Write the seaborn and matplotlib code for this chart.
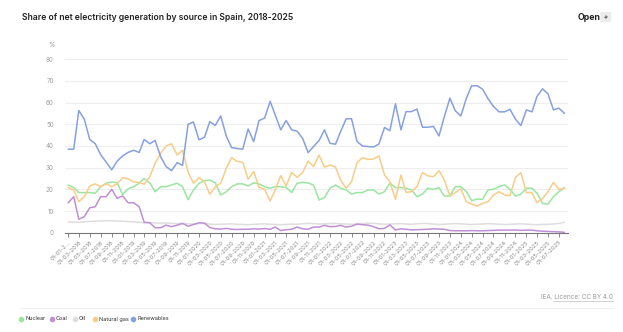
import matplotlib
matplotlib.use("Agg")
import matplotlib.pyplot as plt
from matplotlib.lines import Line2D
from matplotlib.patches import FancyBboxPatch, FancyArrowPatch
import pandas as pd
import seaborn as sns

# Monthly share of net electricity generation (%), Jan 2018 - Aug 2025
months = pd.date_range("2018-01-01", periods=92, freq="MS")

nuclear = [
    22, 20.8, 18.5, 18.5, 18.5, 18.2, 21.2, 22.8, 23.4, 23, 17.6, 20.2, 21.2, 22.8, 25, 23,
    18.9, 21.2, 21.2, 22, 22.8, 21.2,
    15.2, 19.7, 22.8, 24, 24.3, 23, 17.4, 18.9, 21.2, 22.5, 22.5, 21.5, 23, 22.5, 21.2, 20.5,
    21.2, 21.2, 20.9, 18.5, 22.8, 23.2,
    22.9, 22, 15.1, 16.2, 20.5, 22, 20.5, 19.7, 17.8, 18.5, 18.5, 19.7, 19.7, 17.8, 18.9, 22.8,
    20.8, 20.8, 20.5, 19.7, 16.6, 17.8, 20.5,
    20,
    20.8, 16.9, 16.9, 21.2, 21.2, 18.9, 14.8, 15.5, 15.4, 19.7, 20, 21.2, 22, 20, 16.9, 17.8,
    20.5, 20.5, 18.2, 13.5, 13.2, 16.6, 18.9, 20.8,
]

coal = [
    13.8, 16.6, 6.2, 7.4, 11.5, 12, 16.6, 16.6, 20, 15.8, 17, 13.8, 13.8, 12, 4.8, 4.6,
    2.3, 2.3, 3.5, 2.8, 3.5, 4.3,
    3.0, 3.8, 4.6, 4.4, 2.4, 1.8, 1.7, 2.0, 1.6, 1.5, 1.6, 1.6, 1.8, 1.7, 1.9, 1.6,
    2.6, 1.0, 1.4, 1.6, 2.6, 1.8,
    1.6, 2.6, 2.6, 3.4, 2.8, 2.9, 3.4, 2.6, 3.0, 4.0, 3.7, 3.5, 2.8, 1.8, 2.0, 3.6,
    1.3, 1.8, 1.6, 1.3, 1.4, 1.5, 1.6,
    1.8,
    1.7, 1.6, 1.0, 0.9, 0.9, 0.9, 1.0, 0.9, 0.9, 1.0, 1.1, 1.2, 1.2, 1.2, 1.2, 1.1,
    1.2, 1.2, 0.9, 0.7, 0.6, 0.5, 0.4, 0.2,
]

oil = [
    5.0, 4.9, 4.8, 5.0, 5.2, 5.3, 5.4, 5.5, 5.5, 5.4, 5.3, 5.2,
    5.0, 4.8, 4.6, 4.7, 4.5, 4.4, 4.5, 4.3, 4.2, 4.3, 4.1, 4.0,
    4.2, 4.3, 4.0, 3.8, 3.9, 4.0, 4.1, 3.9, 3.8, 3.7, 3.9, 4.0,
    4.1, 3.9, 3.8, 3.7, 3.8, 4.0, 3.9, 4.1, 4.3, 4.2, 4.0, 4.1,
    4.2, 4.3, 4.1, 4.0, 3.9, 4.0, 4.2, 4.4, 4.3, 4.1, 3.9, 4.0,
    4.1, 4.2, 4.0, 3.9, 4.1, 4.3, 4.2, 4.0, 3.8, 3.9, 4.1, 4.2,
    4.1, 3.9, 3.8, 3.9, 4.0, 4.2, 4.1, 3.9, 3.8, 3.9, 4.0, 4.1,
    4.0, 3.8, 3.7, 3.8, 3.9, 4.0, 4.3, 4.8,
]

natural_gas = [
    20.8, 19.7, 14.3, 16.6, 21.5, 22.5, 21.2, 22.5, 21.2, 22.5, 25.4, 24.8, 23.4, 23.2, 22.3, 25.8,
    32, 36.6, 40, 41, 35.8, 38,
    28, 22.8, 25.4, 23.5, 17.7, 21.2, 22.8, 29.7, 34.6, 32.8, 32.5, 24.6, 28.2, 20.9, 20, 14.6,
    19.7, 26.3, 21.5, 27.8, 25.5, 27.7,
    33, 30.5, 35.8, 30.2, 31.2, 30.2, 24.3, 20.5, 23.5, 32.3, 34.6, 33.8, 34, 35.4, 26.6, 23.5,
    15.4, 26.6, 18.6, 18.9, 21.2, 27.7, 26.2,
    25.8,
    28.6, 24.3, 16.9, 18.5, 20.2, 14.3, 13.2, 12.3, 13.5, 14.3, 17.4, 18.9, 17.4, 17.1, 25.5, 27.7,
    18.5, 18.5, 13.8, 15.8, 18.9, 23.2, 20, 20.5,
]

renewables = [
    38.5, 38.5, 56.3, 52.3, 43, 41, 36, 32.5, 29, 33, 35.4, 37, 38, 37, 43, 41,
    42.5, 35, 30.5, 28.6, 32.3, 31,
    50, 51, 42.8, 44, 51.2, 49.4, 53.8, 44.6, 39.2, 38.8, 38.5, 47.8, 42, 51.7, 52.8, 60.5,
    54.3, 47.4, 51.7, 47.4, 46.8, 43.5,
    36.9, 39.7, 42.5, 47.4, 41.2, 40.8, 46.6, 52.5, 52.5, 42, 40, 39.7, 39.5, 40.9, 48.5, 47,
    59.4, 47.4, 55.8, 55.8, 57, 48.6, 48.6,
    49,
    44.6, 53.5, 62, 56.2, 53.8, 62, 67.7, 67.7, 66.2, 61.7, 58.2, 55.7, 55.7, 56.9, 52.3, 49.4,
    56.6, 55.7, 62.8, 66.3, 64, 56.6, 57.4, 55,
]

sources = ["Nuclear", "Coal", "Oil", "Natural gas", "Renewables"]
series = [nuclear, coal, oil, natural_gas, renewables]
colors = ["#9ae6a0", "#c08fd6", "#dedede", "#f9cd88", "#86a0e4"]
y_ticks = [0, 10, 20, 30, 40, 50, 60, 70, 80]

df = pd.DataFrame({
    "month": list(months) * len(sources),
    "share": [v for s in series for v in s],
    "source": [name for name, s in zip(sources, series) for _ in s],
})

sns.set_theme(style="white")
plt.rcParams["font.family"] = ["Inter", "DejaVu Sans"]

W, H = 623, 332
fig = plt.figure(figsize=(W / 100, H / 100), dpi=100)
ax = fig.add_axes([0.104, 0.299, 0.808, 0.523])

# draw the faint series first so the main ones sit on top
draw_order = ["Oil", "Coal", "Nuclear", "Natural gas", "Renewables"]
palette = dict(zip(sources, colors))
sns.lineplot(data=df, x="month", y="share", hue="source", hue_order=draw_order,
             palette=palette, linewidth=1.1, legend=False, ax=ax)

ax.set_ylim(0, 80)
ax.set_xlim(months[0] - pd.Timedelta(days=19), months[-1] + pd.Timedelta(days=21))
ax.set_yticks(y_ticks)
ax.set_yticklabels([str(t) for t in y_ticks], fontsize=4.5, color="#a0a0a0")
ax.yaxis.grid(True, color="#eeeeee", linewidth=0.8)
ax.xaxis.grid(False)
ax.tick_params(axis="y", length=0, pad=8)

tick_months = months[::2]
tick_labels = [d.strftime("%d-%m-%Y") for d in tick_months]
tick_labels[0] = "01-01-2..."
ax.set_xticks(tick_months)
ax.set_xticklabels(tick_labels, rotation=45, ha="right", rotation_mode="anchor",
                   fontsize=4.2, color="#8a8a8a")
ax.tick_params(axis="x", length=3, width=0.6, color="#777777", pad=2, bottom=True)

for side in ["top", "right", "left"]:
    ax.spines[side].set_visible(False)
ax.spines["bottom"].set_color("#777777")
ax.spines["bottom"].set_linewidth(0.8)
ax.set_xlabel("")
ax.set_ylabel("")

fig.text(0.077, 0.865, "%", fontsize=4.5, color="#8a8a8a", ha="left", va="center")

fig.text(0.035, 0.948, "Share of net electricity generation by source in Spain, 2018-2025",
         fontsize=6.2, fontweight="semibold", color="#222222", ha="left", va="center")
fig.text(578 / W, 0.948, "Open", fontsize=6.3, fontweight="bold", color="#222222",
         ha="left", va="center")

# expand icon: small grey rounded square with a diagonal double arrow
fig.add_artist(FancyBboxPatch((601.5 / W, 0.935), 8.5 / W, 0.027,
                              boxstyle="round,pad=0.002,rounding_size=0.003",
                              transform=fig.transFigure, fc="#ececec", ec="none"))
fig.add_artist(FancyArrowPatch((603.5 / W, 0.940), (608.5 / W, 0.957),
                               transform=fig.transFigure,
                               arrowstyle="<->,head_length=1.2,head_width=0.8",
                               color="#555555", linewidth=0.5))

fig.text(0.984, 0.105, "IEA. Licence: CC BY 4.0", fontsize=4.6, color="#9a9a9a",
         ha="right", va="center")
fig.add_artist(Line2D([0.888, 0.984], [0.094, 0.094], color="#b0b0b0", linewidth=0.4))
fig.add_artist(Line2D([0.032, 0.984], [0.072, 0.072], color="#f0f0f0", linewidth=0.8))

# legend row: coloured dot followed by the source name
legend_x = [21, 52, 75, 95, 133]
legend_y = 1 - 319 / H
for px, name, c in zip(legend_x, sources, colors):
    fig.add_artist(Line2D([px / W], [legend_y], marker="o", linestyle="none",
                          markersize=3.0, markerfacecolor=c, markeredgecolor=c))
    fig.text((px + 4) / W, legend_y, name, fontsize=4.0, color="#333333",
             ha="left", va="center")

fig.savefig("out.png", dpi=100)
